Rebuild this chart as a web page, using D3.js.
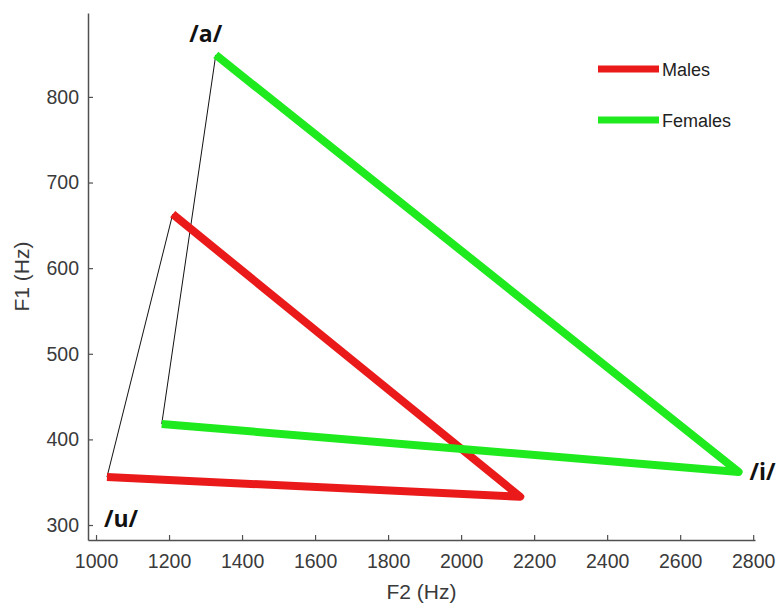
<!DOCTYPE html>
<html>
<head>
<meta charset="utf-8">
<script src="https://cdn.jsdelivr.net/npm/d3@7"></script>
<style>
  html, body { margin: 0; padding: 0; background: #fff; }
  svg { display: block; }
  .tick text { font-family: "Liberation Sans", Arial, sans-serif; }
</style>
</head>
<body>
<svg id="chart" width="784" height="608"></svg>
<script>
// Vowel order along each polyline: /a/ -> /i/ -> /u/
const vowels = ["/a/", "/i/", "/u/"];

// Formant frequencies (Hz)
const malesF2 = [1210, 2162, 1030];
const malesF1 = [663, 333, 356];
const femalesF2 = [1328, 2760, 1180];
const femalesF1 = [849, 362, 418];

const seriesNames = ["Males", "Females"];
const seriesColors = ["#ea1a1a", "#1eea1e"];

const xTicks = [1000, 1200, 1400, 1600, 1800, 2000, 2200, 2400, 2600, 2800];
const yTicks = [300, 400, 500, 600, 700, 800];

const svg = d3.select("#chart");
const plot = { left: 88, right: 755, top: 13, bottom: 540 };

const x = d3.scaleLinear().domain([978, 2805]).range([plot.left, plot.right]);
const y = d3.scaleLinear().domain([282.5, 898]).range([plot.bottom, plot.top]);

const axisColor = "#505050";
const textColor = "#3a3a3a";

// Axes with inward ticks
const gx = svg.append("g").attr("transform", `translate(0,${plot.bottom})`)
  .call(d3.axisBottom(x).tickValues(xTicks).tickFormat(d3.format("d"))
    .tickSize(-5).tickPadding(14).tickSizeOuter(0));
const gy = svg.append("g").attr("transform", `translate(${plot.left},0)`)
  .call(d3.axisLeft(y).tickValues(yTicks).tickFormat(d3.format("d"))
    .tickSize(-5).tickPadding(9).tickSizeOuter(0));

[gx, gy].forEach(g => {
  g.select(".domain").attr("stroke", axisColor).attr("stroke-width", 1.5);
  g.selectAll(".tick line").attr("stroke", axisColor).attr("stroke-width", 1.2);
  g.selectAll(".tick text").attr("fill", textColor).attr("font-size", 19.5);
});
gx.selectAll(".tick text").attr("dy", "0.71em");

// Axis titles
svg.append("text")
  .attr("x", (plot.left + plot.right) / 2)
  .attr("y", 599)
  .attr("text-anchor", "middle")
  .attr("font-family", "Liberation Sans, Arial, sans-serif")
  .attr("font-size", 21)
  .attr("fill", textColor)
  .text("F2 (Hz)");

svg.append("text")
  .attr("transform", `translate(29,${(plot.top + plot.bottom) / 2}) rotate(-90)`)
  .attr("text-anchor", "middle")
  .attr("font-family", "Liberation Sans, Arial, sans-serif")
  .attr("font-size", 21)
  .attr("fill", textColor)
  .text("F1 (Hz)");

// Build vowel triangles
const series = [
  { name: seriesNames[0], color: seriesColors[0], pts: malesF2.map((f2, i) => ({ f2, f1: malesF1[i] })) },
  { name: seriesNames[1], color: seriesColors[1], pts: femalesF2.map((f2, i) => ({ f2, f1: femalesF1[i] })) }
];

const line = d3.line().x(d => x(d.f2)).y(d => y(d.f1));

// Thin closing edge /u/ -> /a/
series.forEach(s => {
  svg.append("path")
    .attr("d", line([s.pts[2], s.pts[0]]))
    .attr("fill", "none")
    .attr("stroke", "#111")
    .attr("stroke-width", 1);
});

// Thick edges /a/ -> /i/ -> /u/
series.forEach(s => {
  svg.append("path")
    .attr("d", line(s.pts))
    .attr("fill", "none")
    .attr("stroke", s.color)
    .attr("stroke-width", 8)
    .attr("stroke-linejoin", "round");
});

// Vowel labels beside the corner points
const labelFont = "'Open Sans', 'DejaVu Sans', sans-serif";
const vowelLabels = [
  { text: vowels[0], p: series[1].pts[0], dx: -10, dy: -13, anchor: "middle" },
  { text: vowels[1], p: series[1].pts[1], dx: 11, dy: 8, anchor: "start" },
  { text: vowels[2], p: series[0].pts[2], dx: -3, dy: 50, anchor: "start" }
];
vowelLabels.forEach(l => {
  svg.append("text")
    .attr("x", x(l.p.f2) + l.dx)
    .attr("y", y(l.p.f1) + l.dy)
    .attr("text-anchor", l.anchor)
    .attr("font-family", labelFont)
    .attr("font-weight", 700)
    .attr("font-size", 23)
    .attr("fill", "#111")
    .text(l.text);
});

// Legend
const legend = svg.append("g").attr("transform", "translate(598,69)");
series.forEach((s, i) => {
  const g = legend.append("g").attr("transform", `translate(0,${i * 51})`);
  g.append("line").attr("x1", 0).attr("x2", 61).attr("y1", 0).attr("y2", 0)
    .attr("stroke", s.color).attr("stroke-width", 7);
  g.append("text").attr("x", 64).attr("y", 7)
    .attr("font-family", "Liberation Sans, Arial, sans-serif")
    .attr("font-size", 18)
    .attr("fill", "#222")
    .text(s.name);
});
</script>
</body>
</html>
